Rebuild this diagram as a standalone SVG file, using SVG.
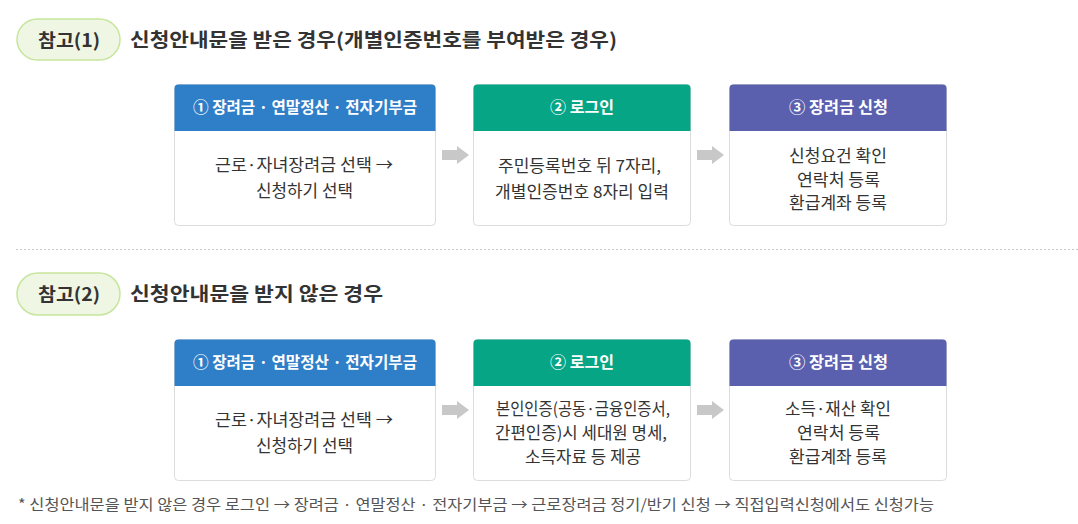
<svg xmlns="http://www.w3.org/2000/svg" width="1078" height="524" viewBox="0 0 1078 524">
<style>
text{font-family:"Noto Sans CJK KR","Noto Sans",sans-serif}
.pill{fill:#eff6e4;stroke:#c6e69b;stroke-width:1.5}
.pt{font-size:18px;font-weight:bold;fill:#333;text-anchor:middle}
.tt{font-size:19px;font-weight:bold;fill:#333}
.box{fill:#fff;stroke:#dcdcdc;stroke-width:1}
.ht{font-size:15.5px;font-weight:bold;fill:#fff;text-anchor:middle}
.bt{font-size:16.5px;fill:#333;text-anchor:middle}
.arr{fill:#c8c8c8}
.ft{font-size:15px;fill:#555}
</style>
<defs>
<path id="ar" d="M0,-5 H15 V-9 L27,0 L15,9 V5 H0 Z"/>
</defs>
<g id="ref1">
<rect class="pill" x="17" y="19" width="103" height="41" rx="20.5"/>
<text class="pt" x="69" y="46.5" textLength="62" lengthAdjust="spacingAndGlyphs">참고(1)</text>
</g>
<text class="tt" x="130" y="47" textLength="487" lengthAdjust="spacingAndGlyphs">신청안내문을 받은 경우(개별인증번호를 부여받은 경우)</text>
<g id="r1n1">
<rect class="box" x="174.5" y="84.5" width="261" height="141" rx="4"/>
<path d="M174.5,131 V88.5 a4,4 0 0 1 4,-4 H431.5 a4,4 0 0 1 4,4 V131 Z" fill="#2f7ec8"/>
<text class="ht" x="305" y="113" textLength="224" lengthAdjust="spacingAndGlyphs">① 장려금 · 연말정산 · 전자기부금</text>
<text class="bt" x="304" y="171" textLength="178" lengthAdjust="spacingAndGlyphs">근로·자녀장려금 선택 →</text>
<text class="bt" x="304.5" y="197" textLength="97" lengthAdjust="spacingAndGlyphs">신청하기 선택</text>
</g>
<g id="r1n2">
<rect class="box" x="473.5" y="84.5" width="217" height="141" rx="4"/>
<path d="M473.5,131 V88.5 a4,4 0 0 1 4,-4 H686.5 a4,4 0 0 1 4,4 V131 Z" fill="#06a586"/>
<text class="ht" x="582" y="113" textLength="64" lengthAdjust="spacingAndGlyphs">② 로그인</text>
<text class="bt" x="579.5" y="172" textLength="163" lengthAdjust="spacingAndGlyphs">주민등록번호 뒤 7자리,</text>
<text class="bt" x="582" y="198" textLength="174" lengthAdjust="spacingAndGlyphs">개별인증번호 8자리 입력</text>
</g>
<g id="r1n3">
<rect class="box" x="729.5" y="84.5" width="217" height="141" rx="4"/>
<path d="M729.5,131 V88.5 a4,4 0 0 1 4,-4 H942.5 a4,4 0 0 1 4,4 V131 Z" fill="#5a5fae"/>
<text class="ht" x="838.5" y="113" textLength="99" lengthAdjust="spacingAndGlyphs">③ 장려금 신청</text>
<text class="bt" x="838" y="162" textLength="98" lengthAdjust="spacingAndGlyphs">신청요건 확인</text>
<text class="bt" x="838.5" y="186" textLength="83" lengthAdjust="spacingAndGlyphs">연락처 등록</text>
<text class="bt" x="838" y="209" textLength="98" lengthAdjust="spacingAndGlyphs">환급계좌 등록</text>
</g>
<line x1="16" y1="249.5" x2="1078" y2="249.5" stroke="#c8c8c8" stroke-width="1" stroke-dasharray="2,2"/>
<g id="ref2">
<rect class="pill" x="17" y="273" width="103" height="42" rx="21"/>
<text class="pt" x="69" y="300.5" textLength="62" lengthAdjust="spacingAndGlyphs">참고(2)</text>
</g>
<text class="tt" x="130" y="301" textLength="253" lengthAdjust="spacingAndGlyphs">신청안내문을 받지 않은 경우</text>
<g id="r2n1">
<rect class="box" x="174.5" y="339.5" width="261" height="141" rx="4"/>
<path d="M174.5,386 V343.5 a4,4 0 0 1 4,-4 H431.5 a4,4 0 0 1 4,4 V386 Z" fill="#2f7ec8"/>
<text class="ht" x="305" y="368" textLength="224" lengthAdjust="spacingAndGlyphs">① 장려금 · 연말정산 · 전자기부금</text>
<text class="bt" x="304" y="426" textLength="178" lengthAdjust="spacingAndGlyphs">근로·자녀장려금 선택 →</text>
<text class="bt" x="304.5" y="452" textLength="97" lengthAdjust="spacingAndGlyphs">신청하기 선택</text>
</g>
<g id="r2n2">
<rect class="box" x="473.5" y="339.5" width="217" height="141" rx="4"/>
<path d="M473.5,386 V343.5 a4,4 0 0 1 4,-4 H686.5 a4,4 0 0 1 4,4 V386 Z" fill="#06a586"/>
<text class="ht" x="582" y="368" textLength="64" lengthAdjust="spacingAndGlyphs">② 로그인</text>
<text class="bt" x="583" y="415" textLength="174" lengthAdjust="spacingAndGlyphs">본인인증(공동·금융인증서,</text>
<text class="bt" x="581" y="439" textLength="172" lengthAdjust="spacingAndGlyphs">간편인증)시 세대원 명세,</text>
<text class="bt" x="583" y="463" textLength="116" lengthAdjust="spacingAndGlyphs">소득자료 등 제공</text>
</g>
<g id="r2n3">
<rect class="box" x="729.5" y="339.5" width="217" height="141" rx="4"/>
<path d="M729.5,386 V343.5 a4,4 0 0 1 4,-4 H942.5 a4,4 0 0 1 4,4 V386 Z" fill="#5a5fae"/>
<text class="ht" x="838.5" y="368" textLength="99" lengthAdjust="spacingAndGlyphs">③ 장려금 신청</text>
<text class="bt" x="838" y="415" textLength="106" lengthAdjust="spacingAndGlyphs">소득·재산 확인</text>
<text class="bt" x="838.5" y="439" textLength="83" lengthAdjust="spacingAndGlyphs">연락처 등록</text>
<text class="bt" x="838" y="463" textLength="98" lengthAdjust="spacingAndGlyphs">환급계좌 등록</text>
</g>
<g id="connectors">
<use href="#ar" class="arr" x="442" y="155"/>
<use href="#ar" class="arr" x="697" y="155"/>
<use href="#ar" class="arr" x="442" y="410"/>
<use href="#ar" class="arr" x="697" y="410"/>
</g>
<text class="ft" x="18" y="510" textLength="916" lengthAdjust="spacingAndGlyphs">* 신청안내문을 받지 않은 경우 로그인 → 장려금 · 연말정산 · 전자기부금 → 근로장려금 정기/반기 신청 → 직접입력신청에서도 신청가능</text>
</svg>
